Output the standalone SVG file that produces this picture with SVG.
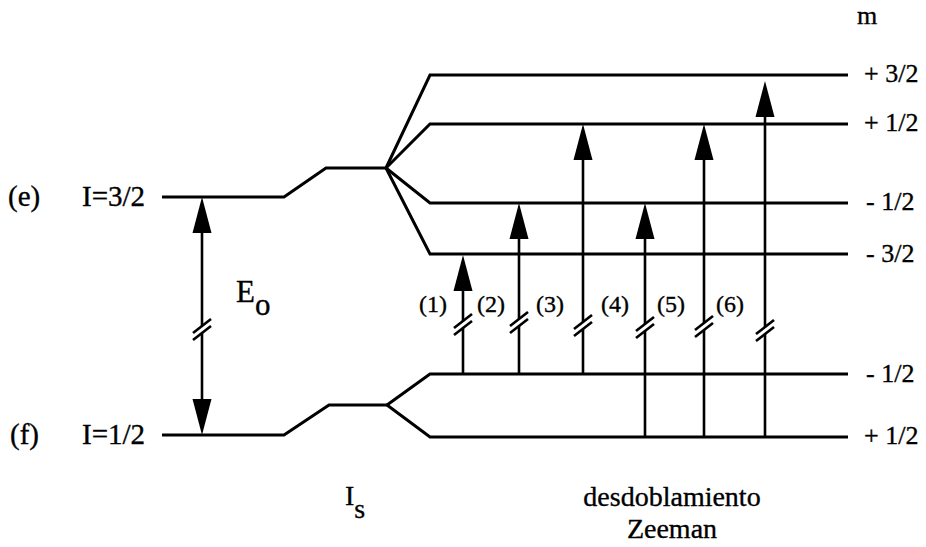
<svg xmlns="http://www.w3.org/2000/svg" xmlns:xlink="http://www.w3.org/1999/xlink" width="926" height="547" viewBox="0 0 926 547">
<style>
.lv{fill:none;stroke:#000;stroke-width:3;stroke-linejoin:miter}
.sh{fill:none;stroke:#000;stroke-width:2.6}
.mk{stroke:#000;stroke-width:2.6;stroke-linecap:butt}
text{fill:#000;stroke:#000;stroke-width:0.35}
.lab{font-size:29px}
.rt{font-size:26px}
.num{font-size:24px}
.big{font-size:28px}
.eo{font-size:31px}
</style>
<defs>
<path id="ah" d="M0,0 L-9.5,36 L9.5,36 Z" fill="#000"/>
<g id="brk"><line class="mk" x1="-9" y1="5" x2="9" y2="-9"/><line class="mk" x1="-9" y1="12" x2="9" y2="-2"/></g>
</defs>
<g id="levels">
<g id="excited"><path class="lv" d="M162,197 H284 L326,168 H386"/>
<path class="lv" d="M386,168 L430,75 H848"/>
<path class="lv" d="M386,168 L430,124 H848"/>
<path class="lv" d="M386,168 L430,203 H848"/>
<path class="lv" d="M386,168 L430,254 H848"/></g>
<g id="ground"><path class="lv" d="M162,435 H284 L329,405 H387"/>
<path class="lv" d="M387,405 L430,374 H848"/>
<path class="lv" d="M387,405 L430,437 H848"/></g>
</g>
<g id="connectors">
<g id="eo"><path class="sh" d="M202,225 V326 M202,333 V410"/><use xlink:href="#ah" transform="translate(202,197)"/><use xlink:href="#ah" transform="translate(202,435) scale(1,-1)"/><use xlink:href="#brk" transform="translate(202,328)"/></g>
<g id="t1"><path class="sh" d="M463,374 V328 M463,321 V280"/><use xlink:href="#ah" transform="translate(463,255)"/><use xlink:href="#brk" transform="translate(463,323)"/></g>
<g id="t2"><path class="sh" d="M519,374 V326 M519,319 V228"/><use xlink:href="#ah" transform="translate(519,203)"/><use xlink:href="#brk" transform="translate(519,321)"/></g>
<g id="t3"><path class="sh" d="M583,374 V329 M583,322 V149"/><use xlink:href="#ah" transform="translate(583,124)"/><use xlink:href="#brk" transform="translate(583,324)"/></g>
<g id="t4"><path class="sh" d="M645,437 V331 M645,324 V228"/><use xlink:href="#ah" transform="translate(645,203)"/><use xlink:href="#brk" transform="translate(645,326)"/></g>
<g id="t5"><path class="sh" d="M704,437 V330 M704,323 V149"/><use xlink:href="#ah" transform="translate(704,124)"/><use xlink:href="#brk" transform="translate(704,325)"/></g>
<g id="t6"><path class="sh" d="M765,437 V334 M765,327 V105"/><use xlink:href="#ah" transform="translate(765,81)"/><use xlink:href="#brk" transform="translate(765,329)"/></g>
</g>
<g id="labels" font-family="'Liberation Serif', 'Times New Roman', serif">
<text class="lab" x="8" y="206">(e)</text>
<text class="lab" x="82" y="206">I=3/2</text>
<text class="lab" x="10" y="444">(f)</text>
<text class="lab" x="82" y="444">I=1/2</text>
<text class="eo" x="236" y="302">E<tspan dy="13">o</tspan></text>
<text class="big" x="345" y="505">I<tspan dy="13">s</tspan></text>
<text class="num" x="419" y="312">(1)</text>
<text class="num" x="477" y="312">(2)</text>
<text class="num" x="536" y="312">(3)</text>
<text class="num" x="601" y="312">(4)</text>
<text class="num" x="657" y="312">(5)</text>
<text class="num" x="716" y="312">(6)</text>
<text class="rt" x="857" y="24">m</text>
<text class="rt" x="864" y="82">+ 3/2</text>
<text class="rt" x="864" y="131">+ 1/2</text>
<text class="rt" x="866" y="210">- 1/2</text>
<text class="rt" x="866" y="262">- 3/2</text>
<text class="rt" x="866" y="382">- 1/2</text>
<text class="rt" x="864" y="444">+ 1/2</text>
<text class="big" x="672" y="506" text-anchor="middle">desdoblamiento</text>
<text class="big" x="672" y="538" text-anchor="middle">Zeeman</text>
</g>
</svg>
